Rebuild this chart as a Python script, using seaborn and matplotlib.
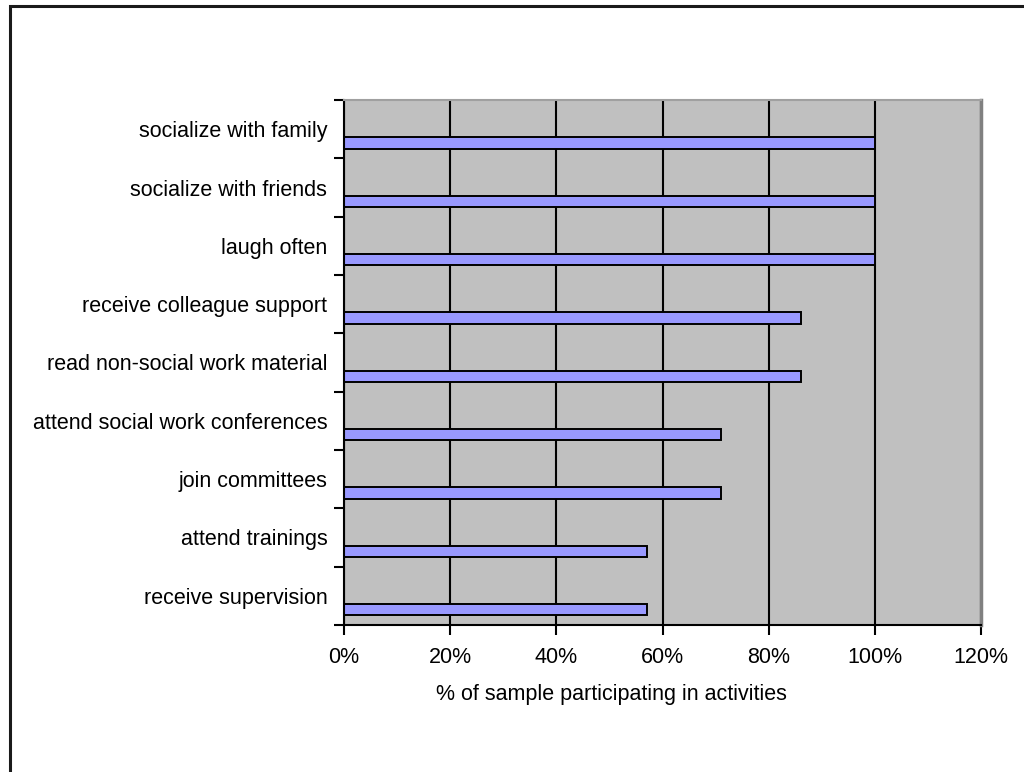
import matplotlib
matplotlib.use("Agg")
import matplotlib.pyplot as plt
from matplotlib.patches import Rectangle
from matplotlib.ticker import FixedLocator, FuncFormatter
import seaborn as sns
import pandas as pd

# Self-care activities and the share of the sample taking part in each
activities = [
    "socialize with family",
    "socialize with friends",
    "laugh often",
    "receive colleague support",
    "read non-social work material",
    "attend social work conferences",
    "join committees",
    "attend trainings",
    "receive supervision",
]
participation_pct = [100, 100, 100, 86, 86, 71, 71, 57, 57]
x_ticks = [0, 20, 40, 60, 80, 100, 120]

df = pd.DataFrame({"activity": activities, "pct": participation_pct})

sns.set_theme(style="white")
plt.rcParams["font.family"] = ["Liberation Sans", "DejaVu Sans"]

FS = 15.5
W, H = 1024, 772
fig = plt.figure(figsize=(W / 100, H / 100), dpi=100)
fig.patch.set_facecolor("white")

# plot area in pixel terms
left, right, top, bottom = 344, 981, 100, 625
ax = fig.add_axes([left / W, 1 - bottom / H, (right - left) / W, (bottom - top) / H])
ax.set_facecolor("#C0C0C0")

sns.barplot(
    data=df, x="pct", y="activity", orient="h", ax=ax,
    color="#9999FF", saturation=1, edgecolor="black", linewidth=1.4,
    width=0.19, zorder=3,
)

# bars sit in the lower part of each category band
bar_offset = 0.237
n = len(activities)
ax.set_ylim(n - 1 + (1 - 0.5 - bar_offset), -0.5 - bar_offset)

band_edges = [k - 0.5 - bar_offset for k in range(n + 1)]
label_pos = [k - bar_offset for k in range(n)]
ax.yaxis.set_major_locator(FixedLocator(label_pos))
ax.set_yticklabels(activities)
ax.yaxis.set_minor_locator(FixedLocator(band_edges))
ax.tick_params(axis="y", which="major", length=0, pad=12, labelsize=FS, colors="black")
ax.tick_params(axis="y", which="minor", left=True, length=7, width=1.5, color="black")

ax.set_xlim(0, 120)
ax.xaxis.set_major_locator(FixedLocator(x_ticks))
ax.xaxis.set_major_formatter(FuncFormatter(lambda v, _: f"{int(v)}%"))
ax.tick_params(axis="x", which="major", bottom=True, length=7, width=1.5,
               color="black", pad=9, labelsize=FS, labelcolor="black")

ax.set_axisbelow(True)
ax.grid(axis="x", color="black", linewidth=1.5, zorder=1)
ax.grid(axis="y", visible=False)

ax.set_ylabel("")
ax.set_xlabel("% of sample participating in activities", fontsize=FS, color="black")
ax.xaxis.set_label_coords((611 - left) / (right - left), -(684 - bottom) / (bottom - top))

for side in ("left", "bottom"):
    ax.spines[side].set_color("black")
    ax.spines[side].set_linewidth(1.5)
ax.spines["top"].set_color("#A0A0A0")
ax.spines["top"].set_linewidth(1.5)
ax.spines["right"].set_color("#808080")
ax.spines["right"].set_linewidth(2.5)
for s in ax.spines.values():
    s.set_zorder(4)

# chart frame
fig.patches.append(Rectangle((10 / W, -0.5), 2, 1.5 - 6 / H, transform=fig.transFigure,
                             fill=False, edgecolor="#1A1A1A", linewidth=2.2))

fig.savefig("out.png", dpi=100, facecolor="white")
